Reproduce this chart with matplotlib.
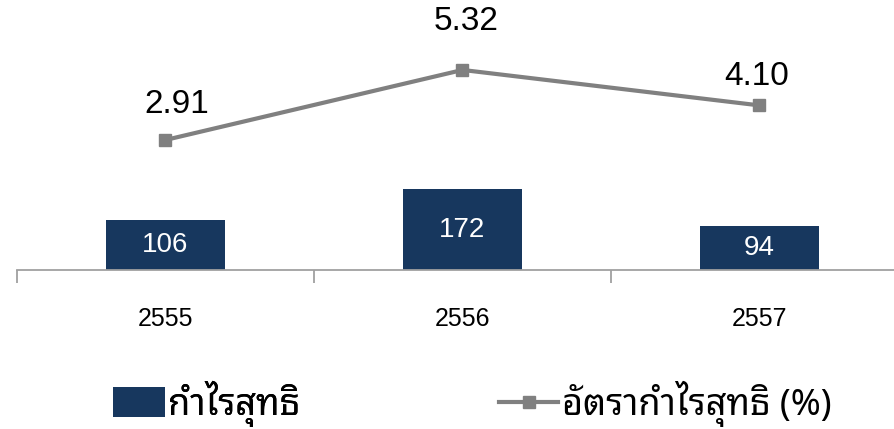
import matplotlib
matplotlib.use('Agg')
import matplotlib.pyplot as plt
from matplotlib.lines import Line2D
from matplotlib.patches import Patch

years = ['2555', '2556', '2557']
net_profit = [106, 172, 94]
net_margin = [2.91, 5.32, 4.10]
bar_name = 'กำไรสุทธิ'
line_name = 'อัตรากำไรสุทธิ (%)'

bar_color = '#17375E'
line_color = '#808080'
axis_color = '#A0A0A0'
num_font = ['Liberation Sans', 'DejaVu Sans']
thai_font = ['Noto Sans Thai Looped', 'DejaVu Sans']

# offsets (pixels) of the margin labels from their markers
label_offsets = [(11, 35), (4, 48), (-3, 29)]

fig = plt.figure(figsize=(8.95, 4.29), dpi=100)
ax = fig.add_axes([17 / 895, 159 / 429, 891 / 895, 270 / 429])

x = list(range(len(years)))
bars = ax.bar(x, net_profit, width=0.4, color=bar_color, zorder=2)
ax.bar_label(bars, labels=['%d' % v for v in net_profit], label_type='center',
             color='white', fontsize=20, family=num_font)
ax.set_xlim(-0.5, len(years) - 0.5)
ax.set_ylim(0, 574)

for side in ['top', 'right', 'left']:
    ax.spines[side].set_visible(False)
ax.spines['bottom'].set_color(axis_color)
ax.spines['bottom'].set_linewidth(1.3)
ax.set_yticks([])
ax.set_xticks([i - 0.5 for i in range(len(years) + 1)])
ax.set_xticklabels([])
ax.tick_params(axis='x', which='major', length=9, width=1.3, color=axis_color, direction='out')
ax.set_xticks(x, minor=True)
ax.set_xticklabels(years, minor=True, fontsize=18, family=num_font)
ax.tick_params(axis='x', which='minor', length=0, pad=27)

ax2 = ax.twinx()
ax2.plot(x, net_margin, color=line_color, lw=3, marker='s', ms=9, zorder=3)
ax2.set_ylim(-1.566, 7.728)
ax2.set_yticks([])
for side in ax2.spines:
    ax2.spines[side].set_visible(False)
for xi, v, off in zip(x, net_margin, label_offsets):
    ax2.annotate('%.2f' % v, (xi, v), xytext=off, textcoords='offset pixels',
                 ha='center', va='center', fontsize=24, family=num_font)

leg1 = fig.legend(handles=[Patch(facecolor=bar_color)], labels=[bar_name],
                  loc='lower left', bbox_to_anchor=(81 / 895, -0.07), frameon=False,
                  handlelength=1.42, handleheight=0.92, handletextpad=0.1,
                  prop={'family': thai_font, 'size': 26})
leg2 = fig.legend(handles=[Line2D([], [], color=line_color, lw=3, marker='s', ms=9)],
                  labels=[line_name], loc='lower left', bbox_to_anchor=(467 / 895, -0.07),
                  frameon=False, handlelength=1.63, handletextpad=0.1,
                  prop={'family': thai_font, 'size': 26})
fig.add_artist(leg1)

fig.savefig('out.png', dpi=100)
